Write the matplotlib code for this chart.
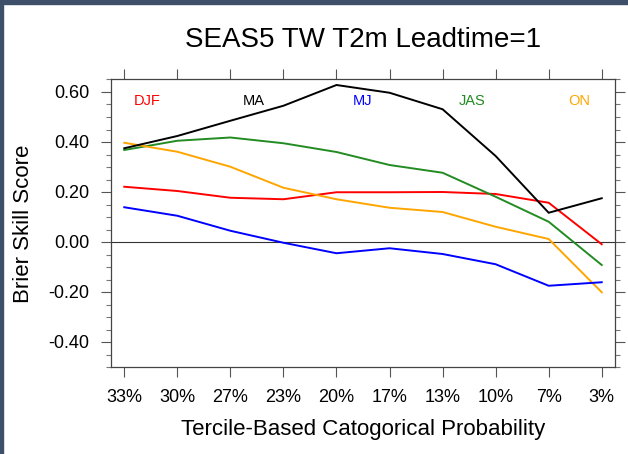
import matplotlib
matplotlib.use("Agg")
import matplotlib.pyplot as plt
from matplotlib.patches import Rectangle
from matplotlib.ticker import MultipleLocator

plt.rcParams['font.family'] = ['Liberation Sans', 'DejaVu Sans']

categories = ["33%", "30%", "27%", "23%", "20%", "17%", "13%", "10%", "7%", "3%"]
series_names = ["DJF", "MA", "MJ", "JAS", "ON"]
djf = [0.221, 0.204, 0.177, 0.171, 0.199, 0.199, 0.200, 0.192, 0.157, -0.009]
ma = [0.375, 0.424, 0.485, 0.545, 0.628, 0.597, 0.531, 0.344, 0.117, 0.175]
mj = [0.139, 0.105, 0.045, -0.003, -0.045, -0.025, -0.048, -0.089, -0.175, -0.161]
jas = [0.368, 0.405, 0.418, 0.395, 0.360, 0.308, 0.277, 0.181, 0.081, -0.092]
on = [0.397, 0.361, 0.301, 0.217, 0.171, 0.137, 0.120, 0.061, 0.012, -0.201]
colors = ["#ff0000", "#000000", "#0000ff", "#228b22", "#ffa500"]

W, H = 628, 454
fig = plt.figure(figsize=(W / 100, H / 100), dpi=100)
ax = fig.add_axes([111 / W, (H - 367) / H, 504 / W, 288 / H])

x = list(range(len(categories)))
# draw in order so overlaps look similar
for vals, c in [(djf, colors[0]), (jas, colors[3]), (on, colors[4]), (mj, colors[2]), (ma, colors[1])]:
    ax.plot(x, vals, color=c, lw=1.4, solid_joinstyle='miter')

ax.axhline(0, color='#333333', lw=0.8, zorder=1)

ax.set_xlim(-0.25, 9.25)
ax.set_ylim(-0.5, 0.652)
ax.set_xticks(x)
ax.set_xticklabels(categories)
ax.yaxis.set_major_locator(MultipleLocator(0.2))
ax.yaxis.set_minor_locator(MultipleLocator(0.05))
ax.set_yticks([0.6, 0.4, 0.2, 0.0, -0.2, -0.4])
ax.set_yticklabels(["0.60", "0.40", "0.20", "0.00", "-0.20", "-0.40"])

ax.tick_params(axis='x', which='major', direction='out', length=7.2, width=0.8,
               color='#555555', top=True, bottom=True, labelsize=13, pad=9)
ax.tick_params(axis='y', which='major', direction='out', length=7.5, width=0.8,
               color='#555555', left=True, right=True, labelsize=13, pad=8)
ax.tick_params(axis='y', which='minor', direction='out', length=3.6, width=0.8,
               color='#777777', left=True, right=True)
for s in ax.spines.values():
    s.set_color('#444444')
    s.set_linewidth(0.9)

label_x = [0.071, 0.284, 0.50, 0.716, 0.93]
for name, lx, c in zip(series_names, label_x, colors):
    ax.text(lx, 0.924, name, color=c, fontsize=10.5, ha='center', va='center',
            transform=ax.transAxes)

fig.text(363 / W, (H - 47) / H, "SEAS5 TW T2m Leadtime=1", fontsize=20,
         ha='center', va='baseline')
fig.text(363 / W, (H - 435) / H, "Tercile-Based Catogorical Probability", fontsize=16,
         ha='center', va='baseline')
fig.text(24 / W, 223.5 / H * 0 + (H - 223.5) / H, "Brier Skill Score", fontsize=16,
         ha='center', va='center', rotation=90)

# dark frame at top and left edges
fig.patches.append(Rectangle((0, 1 - 4 / H), 1, 4 / H, transform=fig.transFigure,
                             color='#3e4f69', zorder=10))
fig.patches.append(Rectangle((0, 0), 2.5 / W, 1, transform=fig.transFigure,
                             color='#3e4f69', zorder=10))

fig.savefig("out.png", dpi=100)
